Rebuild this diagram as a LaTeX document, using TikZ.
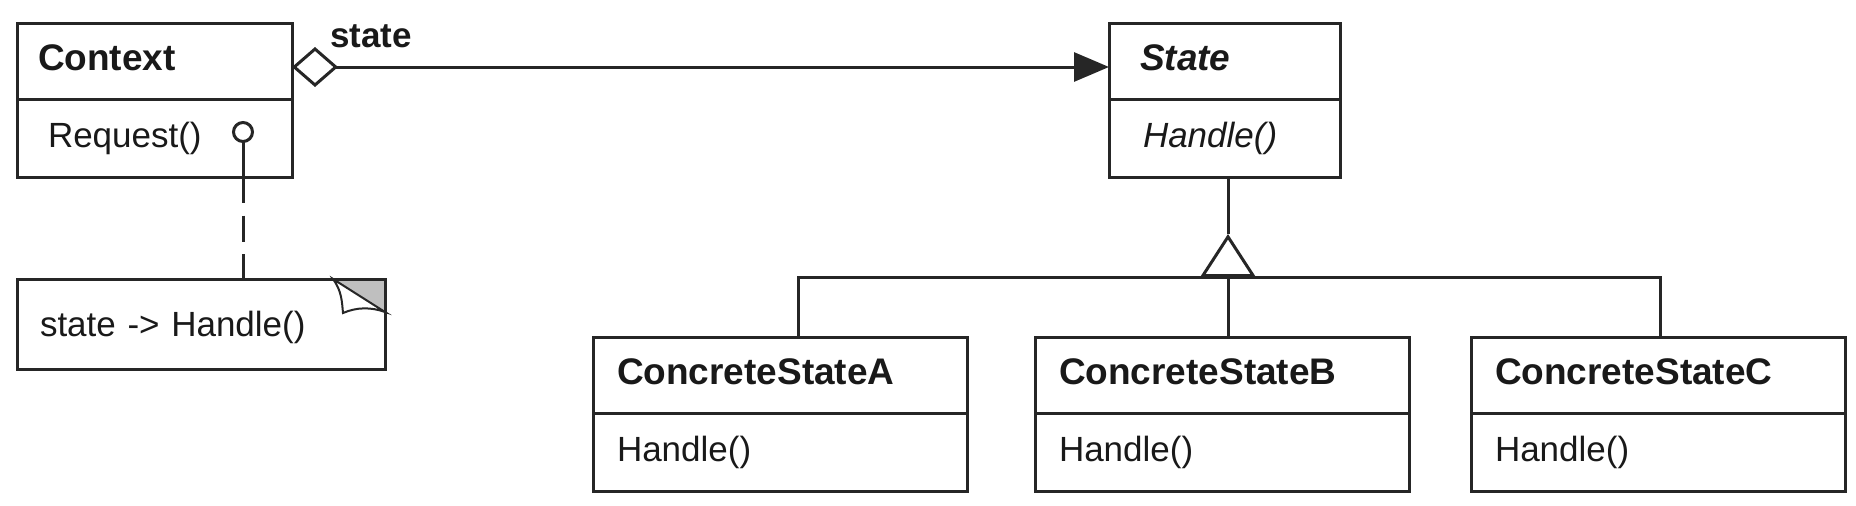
\documentclass[tikz,border=0pt]{standalone}
\usepackage{fontspec}
\setmainfont{Liberation Sans}
\usetikzlibrary{arrows.meta}
\tikzset{
  umlline/.style  = {draw=black!85, line width=3pt},
  compart/.style  = {umlline, anchor=north west, outer sep=0pt, inner xsep=24pt,
                     inner ysep=0pt, text height=25pt, text depth=6pt, align=left,
                     text=black!90},
  namebox/.style  = {compart, minimum height=76pt, font=\fontsize{37}{44}\selectfont\bfseries},
  opbox/.style    = {compart, minimum height=78pt, font=\fontsize{35}{42}\selectfont},
  notebox/.style  = {umlline, anchor=north west, outer sep=0pt, inner xsep=23pt,
                     minimum height=90pt, text height=25pt, text depth=0pt, align=left,
                     text=black!90, font=\fontsize{35}{42}\selectfont},
  rolelabel/.style = {inner sep=0pt, text=black!90, font=\fontsize{35}{42}\selectfont\bfseries},
  assoc/.style    = {umlline, {Diamond[open,fill=white,length=46pt,width=40pt]}-{Triangle[length=35pt,width=29pt]}},
  genarr/.style   = {umlline, -{Triangle[open,fill=white,length=43pt,width=55pt]}},
  link/.style     = {umlline},
  notelink/.style = {umlline, dash pattern=on 26pt off 12.5pt}
}

\begin{document}
\begin{tikzpicture}[x=1pt,y=-1pt]
  \useasboundingbox (0,0) rectangle (1856,506);
  % context and abstract state
  \node[namebox,inner xsep=21pt,text width=233pt] (ctxname) at (17,23) {Context};
  \node[opbox,inner xsep=31pt,text width=213pt] (ctxops) at (ctxname.south west) {Request()};
  \node[namebox,inner xsep=31pt,text width=169pt] (statename) at (1109,23) {\itshape State};
  \node[opbox,inner xsep=34pt,text width=163pt] (stateops) at (statename.south west) {\itshape Handle()};
  \draw[assoc] ([yshift=-6pt]ctxname.east) -- ([yshift=-6pt]statename.west);
  \node[rolelabel,anchor=base west] (staterole) at ([xshift=38pt,yshift=14pt]ctxname.east) {state};
  % the three concrete states hang off one bar
  \coordinate (hub) at (1228,277);
  \coordinate (tritop) at (1228,234);
  \draw[link] (tritop) -- (tritop |- stateops.south);
  \foreach \nm/\x/\dx in {A/593/18, B/1035/6, C/1471/2}
    { \node[namebox,text width=326pt] (name\nm) at (\x,337) {ConcreteState\nm};
      \node[opbox,text width=326pt] (ops\nm) at (name\nm.south west) {Handle()};
      \draw[link] ([xshift=\dx pt]name\nm.north) |- (hub); }
  \draw[genarr] (hub) -- (tritop);
  % note attached to Request()
  \node[notebox,text width=322pt] (note) at (17,279) {state -> Handle()};
  \fill[gray!50] ([xshift=-52pt]note.north east) -- (note.north east)
    -- ([yshift=-33pt]note.north east) -- cycle;
  \draw[umlline] ([xshift=-52pt]note.north east) -- (note.north east)
    -- ([yshift=-33pt]note.north east);
  \draw[umlline,line width=2pt,fill=white] ([xshift=-52pt]note.north east)
    .. controls +(9,12) and +(-1,-10) .. ([xshift=-42pt,yshift=-34pt]note.north east)
    .. controls +(14,-6) and +(-14,-5) .. ([yshift=-33pt]note.north east) -- cycle;
  \node[circle,umlline,minimum size=19pt,inner sep=0pt,outer sep=0pt] (reqport) at (243,132) {};
  \draw[link] (reqport.south) -- (reqport |- ctxops.south);
  \draw[notelink] (reqport |- ctxops.south) -- (reqport |- note.north);
\end{tikzpicture}
\end{document}
